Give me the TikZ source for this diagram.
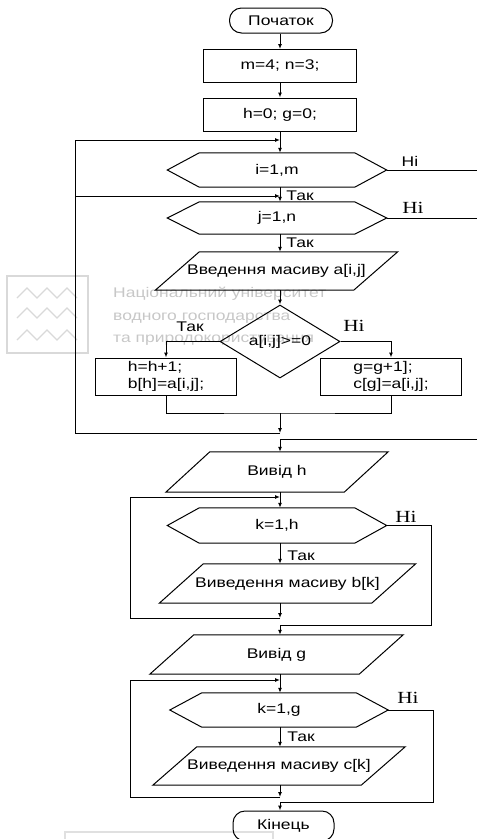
\documentclass[tikz,border=0pt]{standalone}
\usepackage{fontspec}
\setmainfont{Liberation Sans}[FakeStretch=1.25]
\newfontfamily\hifont{Liberation Serif}[FakeStretch=1.25]
\newcommand{\flowfont}{\fontsize{14}{17}\selectfont}
\usetikzlibrary{shapes.geometric,arrows.meta}

\begin{document}
\begin{tikzpicture}[x=1pt,y=-1pt]
\tikzset{block/.style={draw,line width=1pt,inner sep=0pt,font=\flowfont}}
\tikzset{term/.style={block,rounded corners=12pt,minimum width=103pt,minimum height=25pt}}
\tikzset{proc/.style={block,minimum width=153pt,minimum height=33pt}}
\tikzset{cyc/.style={inner sep=0pt,font=\flowfont,minimum width=155pt,minimum height=34pt}}
\tikzset{io/.style={inner sep=0pt,font=\flowfont,minimum height=39pt}}
\tikzset{cond/.style={block,diamond,aspect=1.64,minimum width=120pt,minimum height=73pt}}
\tikzset{yes/.style={inner sep=0pt,font=\flowfont}}
\tikzset{no/.style={inner sep=0pt,font=\hifont\fontsize{17}{17}\selectfont}}
\tikzset{arr/.style={line width=1pt,-{Latex[length=5pt,width=4pt]}}}
\tikzset{wm/.style={inner sep=0pt,anchor=base west,font=\flowfont,text=black!22}}

\useasboundingbox (0,0) rectangle (477,839);

% watermark behind the chart
\draw[black!15,line width=1.2pt] (7,276) rectangle (88,353);
\foreach \y in {293,313,335}
  \draw[black!15,line width=1.2pt] (17,\y+5) -- (27,\y-5) -- (37,\y+5) -- (47,\y-5)
    -- (57,\y+5) -- (67,\y-5) -- (77,\y+5);
\node[wm] (wm1) at (113,297) {Національний університет};
\node[wm] (wm2) at (113,320) {водного господарства};
\node[wm] (wm3) at (113,342) {та природокористування};
\draw[black!12,line width=1.5pt] (65,832) rectangle (273,850);

% junctions and loop columns
\coordinate (col) at (280,0);
\coordinate (lx) at (75,0);
\coordinate (lx2) at (130,0);
\coordinate (rx) at (477,0);
\coordinate (rx2) at (431,0);
\coordinate (rx3) at (433,0);
\coordinate (ji) at (280,140);
\coordinate (jj) at (280,196);
\coordinate (merge) at (280,413);
\coordinate (jend) at (280,433);
\coordinate (out1) at (280,439);
\coordinate (jk1) at (280,497);
\coordinate (kend1) at (280,618);
\coordinate (out2) at (280,625);
\coordinate (jk2) at (280,680);
\coordinate (kend2) at (280,797);
\coordinate (out3) at (280,802);

\node[term] (start) at (281,20.5) {Початок};
\node[proc] (m) at (280,66) {m=4; n=3;};
\node[proc] (h0) at (280,114.5) {h=0; g=0;};
\node[cyc] (i) at (277,170) {i=1,m};
\node[cyc,minimum height=32pt] (j) at (277,218) {j=1,n};
\node[io,minimum width=198pt,minimum height=38pt] (a) at (276.5,271) {Введення масиву a[i,j]};
\node[cond] (d) at (280,341.5) {a[i,j]>=0};
\node[block,align=left,minimum width=141pt,minimum height=37pt] (lb) at (166,376.5) {h=h+1;\\b[h]=a[i,j];};
\node[block,align=left,minimum width=141pt,minimum height=37pt] (rb) at (391,376.5) {g=g+1];\\c[g]=a[i,j];};
\node[io,minimum width=178pt,minimum height=40pt] (vh) at (277,472) {Вивід h};
\node[cyc,minimum height=35pt] (kh) at (277,525.5) {k=1,h};
\node[io,minimum width=212pt] (bk) at (287.5,583.5) {Виведення масиву b[k]};
\node[io,minimum width=209pt] (vg) at (276.5,654.5) {Вивід g};
\node[cyc,minimum width=154pt] (kg) at (279,710) {k=1,g};
\node[io,minimum width=208pt,minimum height=38pt] (ck) at (279,766) {Виведення масиву c[k]};
\node[term,minimum width=101pt,minimum height=30pt] (end) at (283.5,826) {Кінець};

% loop headers and in/out boxes
\foreach \n in {i,j,kh,kg} {
  \draw[line width=1pt] (\n.north west) -- (\n.north east) -- ([xshift=32pt]\n.east)
    -- (\n.south east) -- (\n.south west) -- ([xshift=-32pt]\n.west) -- cycle;
  \coordinate (\n-tip) at ([xshift=32pt]\n.east);
}
\foreach \n in {a,vh,bk,vg,ck}
  \draw[line width=1pt] ([xshift=22pt]\n.north west) -- ([xshift=22pt]\n.north east)
    -- ([xshift=-22pt]\n.south east) -- ([xshift=-22pt]\n.south west) -- cycle;

\node[yes] (t1) at (300,196) {Так};
\node[yes] (n1) at (410,161) {Ні};
\node[no] (n2) at (413,208) {Hi};
\node[yes] (t2) at (300,243) {Так};
\node[yes] (t3) at (190,327) {Так};
\node[no] (n3) at (354,326) {Hi};
\node[no] (n4) at (406,517) {Hi};
\node[yes] (t4) at (301,556) {Так};
\node[no] (n5) at (408,698) {Hi};
\node[yes] (t5) at (301,737) {Так};

\draw[arr] (start.south -| col) -- (m.north -| col);
\draw[arr] (m.south -| col) -- (h0.north -| col);
\draw[arr] (h0.south -| col) -- (i.north -| col);
\draw[arr] (i.south -| col) -- (j.north -| col);
\draw[arr] (j.south -| col) -- (a.north -| col);
\draw[arr] (a.south -| col) -- (d.north);
\draw[arr] (d.west) -| (lb.north);
\draw[arr] (d.east) -| (rb.north);
\draw[line width=1pt] (lb.south) |- (merge) -| (rb.south);
\draw[arr] (merge) -- (jend);
\draw[arr] (jend) -| (lx |- ji) -- (ji);
\draw[arr] (lx |- jj) -- (jj);
\draw[line width=1pt] (i-tip) -- (i-tip -| rx);
\draw[line width=1pt] (j-tip) -- (j-tip -| rx);
\draw[arr] (rx |- out1) -- (out1) -- (vh.north -| col);

\draw[arr] (vh.south -| col) -- (kh.north -| col);
\draw[arr] (kh.south -| col) -- (bk.north -| col);
\draw[arr] (bk.south -| col) -- (kend1);
\draw[arr] (kend1) -| (lx2 |- jk1) -- (jk1);
\draw[arr] (kh-tip) -| (rx2 |- out2) -- (out2) -- (vg.north -| col);

\draw[arr] (vg.south -| col) -- (kg.north -| col);
\draw[arr] (kg.south -| col) -- (ck.north -| col);
\draw[arr] (ck.south -| col) -- (kend2);
\draw[arr] (kend2) -| (lx2 |- jk2) -- (jk2);
\draw[arr] (kg-tip) -| (rx3 |- out3) -- (out3) -- (end.north -| col);
\end{tikzpicture}
\end{document}
